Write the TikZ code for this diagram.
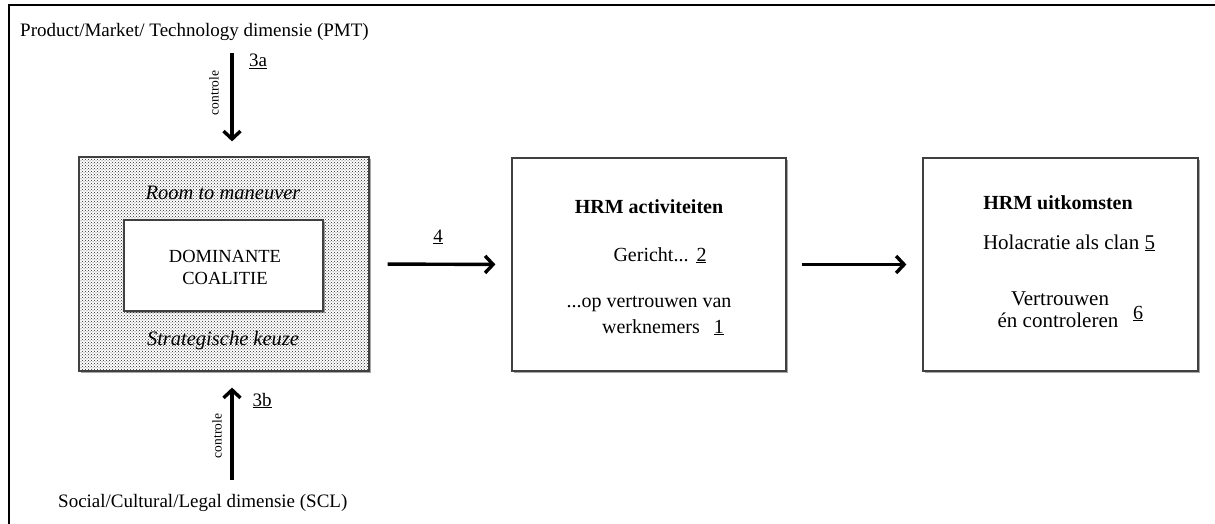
\documentclass[tikz,border=0pt]{standalone}
\usepackage{fontspec}
\setmainfont{Liberation Serif}
\usetikzlibrary{arrows.meta,patterns,shadows}
\begin{document}
\begin{tikzpicture}[x=1pt,y=-1pt,
  txt/.style={font=\fontsize{20}{24}\selectfont, inner sep=0pt, anchor=base},
  big/.style={font=\fontsize{19}{23}\selectfont, inner sep=0pt, anchor=base west},
  small/.style={font=\fontsize{13.5}{15}\selectfont, inner sep=0pt, rotate=90},
  box/.style={draw=black!75, line width=1.2pt, inner sep=0pt,
    drop shadow={shadow xshift=2pt, shadow yshift=-2pt, opacity=.35, fill=black}},
  arr/.style={line width=3.4pt, -{Straight Barb[length=8pt,width=17pt]}}
]
\useasboundingbox (0,0) rectangle (1215,524);
% frame
\draw[line width=2.8pt] (9,524) -- (9,5) -- (1215,5);

% outer texts
\node[big] (pmt) at (20,37) {Product/Market/ Technology dimensie (PMT)};
\node[big] (scl) at (58,507) {Social/Cultural/Legal dimensie (SCL)};

% boxes
\node[box, preaction={fill=white}, pattern=crosshatch dots, pattern color=black!85,
  minimum width=290pt, minimum height=214pt] (rtm) at (224,264) {};
\node[box, fill=white, minimum width=199pt, minimum height=91pt] (dc) at (223.5,265.5) {};
\node[box, fill=white, minimum width=274pt, minimum height=213pt] (hrm) at (649,264.5) {};
\node[box, fill=white, minimum width=275pt, minimum height=213pt] (uit) at (1060.5,264.5) {};

% texts in dotted box
\node[txt, font=\fontsize{20.5}{24}\selectfont\itshape] (room) at (223,199) {Room to maneuver};
\node[txt, font=\fontsize{18.5}{22}\selectfont] (dom) at (225,262) {DOMINANTE};
\node[txt, font=\fontsize{18.5}{22}\selectfont] (coa) at (225,284) {COALITIE};
\node[txt, font=\fontsize{20.5}{24}\selectfont\itshape] (strat) at (223,345) {Strategische keuze};

% HRM activiteiten
\node[txt, font=\fontsize{20}{24}\selectfont\bfseries] (hrmt) at (649,213) {HRM activiteiten};
\node[txt] (ger) at (660,261) {Gericht...\hspace{8pt}\underline{2}};
\node[txt] (opv) at (649,307) {...op vertrouwen van};
\node[txt] (wer) at (663,333) {werknemers\hspace{14pt}\underline{1}};

% HRM uitkomsten
\node[txt, font=\fontsize{20}{24}\selectfont\bfseries] (uitt) at (1058,209) {HRM uitkomsten};
\node[txt, font=\fontsize{21}{24}\selectfont] (hol) at (1069,249) {Holacratie als clan \underline{5}};
\node[txt, font=\fontsize{21}{24}\selectfont] (ver) at (1060,305) {Vertrouwen};
\node[txt, font=\fontsize{21}{24}\selectfont] (enc) at (1058,327) {én controleren};
\node[txt] (six) at (1138,319) {\underline{6}};

% connectors
\draw[arr, shorten <=12pt, shorten >=15pt] ([xshift=8pt]rtm.north |- pmt.south) -- ([xshift=8pt]rtm.north);
\draw[arr, shorten <=14pt, shorten >=16pt] ([xshift=8pt]rtm.south |- scl.north) -- ([xshift=8pt]rtm.south);
\draw[arr, shorten <=18pt, shorten >=16pt] (rtm.east) -- (hrm.west);
\draw[arr, shorten <=15pt, shorten >=16pt] (hrm.east) -- (uit.west);

% labels
\node[small] (c3a) at (214,93) {controle};
\node[small] (c3b) at (217,436) {controle};
\node[txt, font=\fontsize{19}{23}\selectfont] (l3a) at (258,67) {\underline{3a}};
\node[txt, font=\fontsize{19}{23}\selectfont] (l3b) at (262,406) {\underline{3b}};
\node[txt, font=\fontsize{19}{23}\selectfont] (l4) at (438,242) {\underline{4}};
\end{tikzpicture}
\end{document}
